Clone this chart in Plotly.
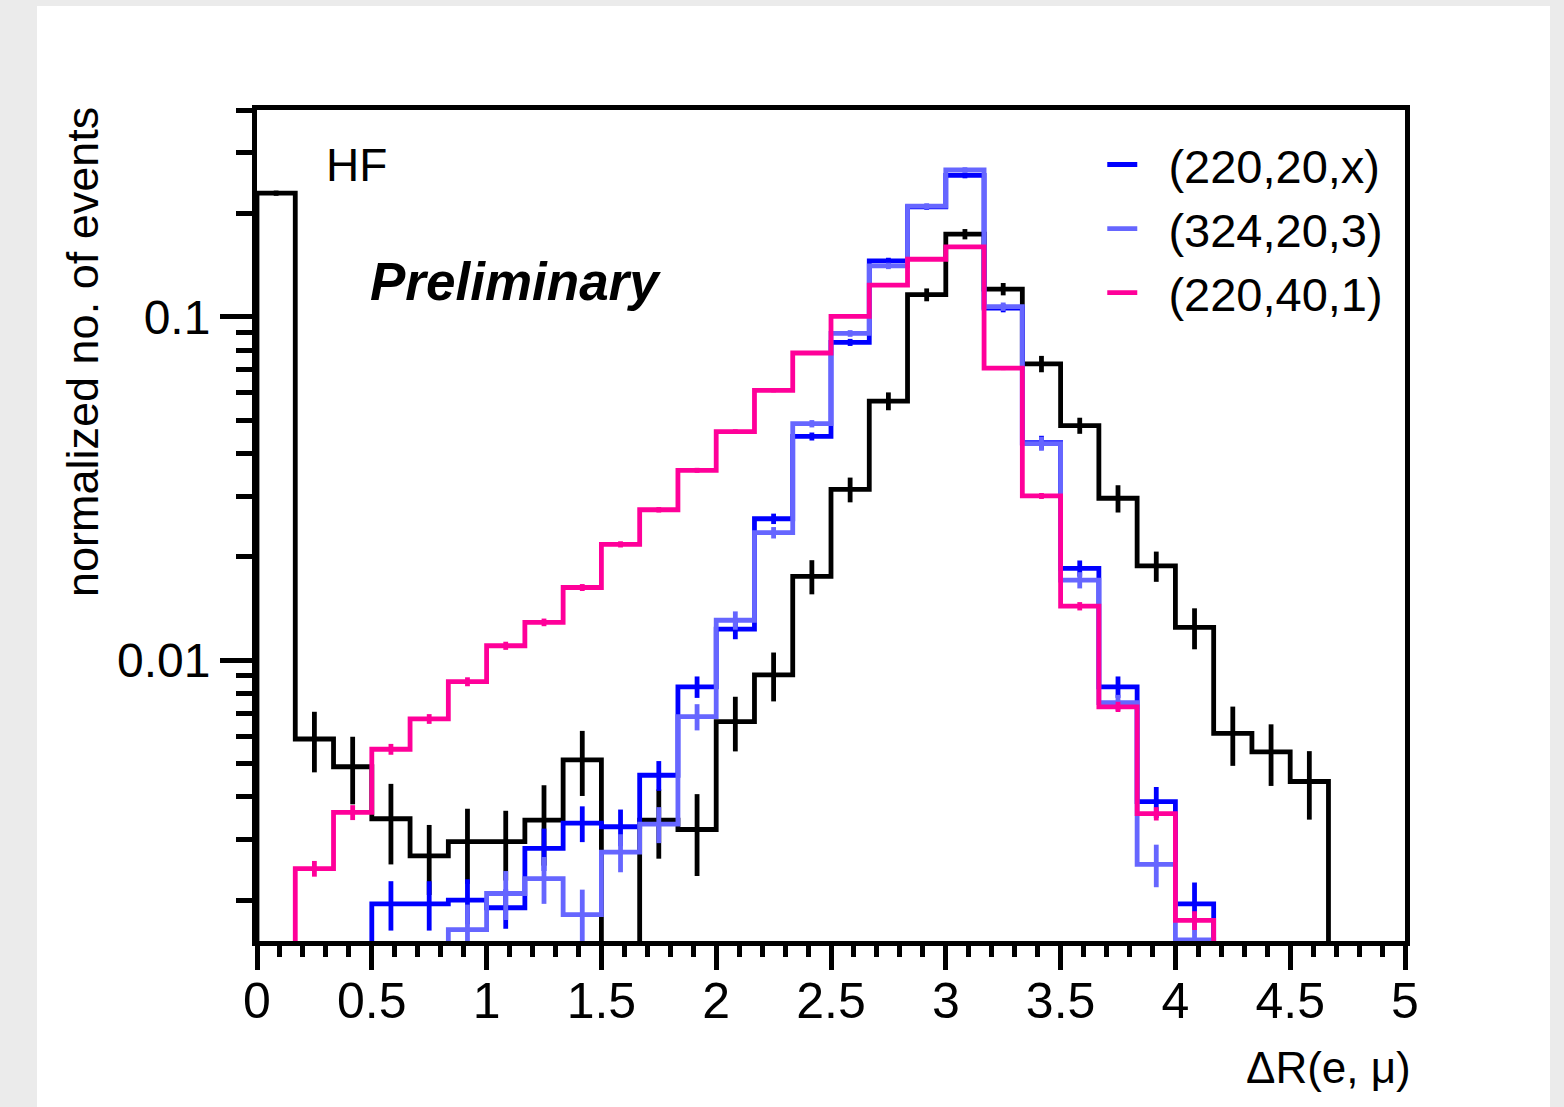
import numpy as np
import plotly.graph_objects as go

# ---- data: 30 bins of dR(e,mu) between 0 and 5 ----
x_lo, x_hi, n_bins = 0.0, 5.0, 30

hf_vals = [0.229, 0.00589, 0.00489, 0.00345, 0.00269, 0.00296, 0.00296, 0.00342, 0.00512, 0,
           0.00342, 0.00321, 0.00662, 0.00905, 0.01754, 0.0314, 0.0568, 0.1159, 0.174, 0.1204,
           0.0729, 0.0482, 0.0296, 0.0188, 0.01245, 0.00612, 0.0054, 0.00443, 0, 0]
hf_errs = [0.004, 0.00118, 0.00109, 0.00091, 0.00062, 0.00073, 0.00068, 0.0009, 0.0011, 0,
           0.00078, 0.00086, 0.0012, 0.00147, 0.002, 0.0026, 0.0034, 0.005, 0.006, 0.005,
           0.004, 0.0026, 0.0027, 0.0019, 0.0017, 0.0012, 0.0011, 0.001, 0, 0]

s220_20_vals = [0, 0, 0, 0.00195, 0.00195, 0.0020, 0.0019, 0.00283, 0.00335, 0.00327,
                0.00462, 0.00836, 0.0123, 0.0258, 0.0448, 0.0842, 0.1455, 0.209, 0.258, 0.106,
                0.043, 0.0185, 0.00836, 0.00387, 0.00195, 0, 0, 0, 0, 0]
s220_20_errs = [0, 0, 0, 0.00032, 0.00032, 0.0003, 0.00025, 0.0004, 0.0004, 0.0004,
                0.00046, 0.0006, 0.0008, 0.0009, 0.0012, 0.002, 0.003, 0.004, 0.005, 0.003,
                0.002, 0.001, 0.0006, 0.0004, 0.0003, 0, 0, 0, 0, 0]

s324_20_vals = [0, 0, 0, 0, 0, 0.00164, 0.00209, 0.00231, 0.001815, 0.00276,
                0.00333, 0.00684, 0.01306, 0.0235, 0.0488, 0.0894, 0.1406, 0.21, 0.2675, 0.107,
                0.0427, 0.0171, 0.00752, 0.00254, 0.00153, 0, 0, 0, 0, 0]
s324_20_errs = [0, 0, 0, 0, 0, 0.0003, 0.00034, 0.00036, 0.00033, 0.00035,
                0.0004, 0.0006, 0.0008, 0.0009, 0.0012, 0.002, 0.003, 0.004, 0.005, 0.003,
                0.002, 0.00093, 0.0004, 0.00036, 0.0003, 0, 0, 0, 0, 0]

s220_40_vals = [0, 0.00247, 0.0036, 0.0055, 0.00674, 0.00865, 0.01101, 0.01288, 0.01627, 0.02173,
                0.0274, 0.0357, 0.0463, 0.061, 0.0784, 0.1002, 0.1236, 0.147, 0.1598, 0.0708,
                0.03006, 0.01435, 0.00731, 0.00357, 0.001746, 0, 0, 0, 0, 0]
s220_40_errs = [0, 0.00013, 0.00018, 0.0002, 0.00022, 0.00026, 0.0003, 0.00033, 0.00038, 0.00045,
                0.0005, 0.0006, 0.0007, 0.0008, 0.0009, 0.001, 0.0011, 0.0012, 0.0013, 0.0009,
                0.0006, 0.0004, 0.00025, 0.00016, 0.00011, 0, 0, 0, 0, 0]

legend_names = ["(220,20,x)", "(324,20,3)", "(220,40,1)"]
y_min, y_max = 0.00152, 0.4

# ---- style ----
FONT = "Liberation Sans, Arial, Helvetica, sans-serif"
C_HF, C_B, C_LB, C_P = "#000000", "#0000ff", "#6666ff", "#ff0099"
LW = 4.8
AXW = 5
FLOOR = 1e-5  # zero bins are drawn below the visible range (as ROOT does on log axes)
PAD = "\u00a0\u00a0"

edges = np.linspace(x_lo, x_hi, n_bins + 1)
centers = 0.5 * (edges[:-1] + edges[1:])

fig = go.Figure()


def add_hist(vals, errs, color, name=None):
    v = np.array(vals, dtype=float)
    e = np.array(errs, dtype=float)
    vplot = np.where(v > 0, v, FLOOR)
    xs = np.concatenate([[edges[0]], edges[:-1], [edges[-1]]])
    ys = np.concatenate([[FLOOR], vplot, [FLOOR]])
    fig.add_trace(go.Scatter(x=xs, y=ys, mode="lines", line=dict(color=color, width=LW, shape="hv"),
                             name=(PAD + name) if name else "", showlegend=name is not None,
                             hoverinfo="skip"))
    m = v > 0
    fig.add_trace(go.Scatter(x=centers[m], y=v[m], mode="markers",
                             marker=dict(size=0.1, color=color),
                             error_y=dict(type="data", array=e[m], visible=True, color=color,
                                          thickness=LW, width=0),
                             showlegend=False, hoverinfo="skip"))


add_hist(hf_vals, hf_errs, C_HF)
add_hist(s220_20_vals, s220_20_errs, C_B, legend_names[0])
add_hist(s324_20_vals, s324_20_errs, C_LB, legend_names[1])
add_hist(s220_40_vals, s220_40_errs, C_P, legend_names[2])

fig.update_layout(
    width=1564, height=1107,
    margin=dict(l=257, r=159, t=110, b=166),
    paper_bgcolor="#ebebeb", plot_bgcolor="white",
    font=dict(family=FONT, color="black", size=46),
    showlegend=True,
    legend=dict(x=0.7363, y=0.979, xanchor="left", yanchor="top", bgcolor="rgba(0,0,0,0)",
                font=dict(size=47, family=FONT), itemwidth=30, tracegroupgap=0),
    shapes=[dict(type="rect", xref="paper", yref="paper", layer="below",
                 x0=(37 - 257) / 1148, x1=(1550 - 257) / 1148,
                 y0=(941 - 1120) / 831, y1=(941 - 6) / 831,
                 fillcolor="white", line=dict(width=0))],
)

fig.update_xaxes(range=[x_lo, x_hi], showgrid=False, zeroline=False,
                 showline=True, linewidth=AXW, linecolor="black", mirror=True,
                 ticks="outside", ticklen=24, tickwidth=AXW, tickcolor="black",
                 dtick=0.5, tick0=0, tickfont=dict(size=50, family=FONT),
                 ticklabelstandoff=-12,
                 minor=dict(ticks="outside", dtick=0.1, ticklen=11, tickwidth=AXW, tickcolor="black"))
fig.update_yaxes(type="log", range=[np.log10(y_min), np.log10(y_max)], showgrid=False, zeroline=False,
                 showline=True, linewidth=AXW, linecolor="black", mirror=True,
                 ticks="outside", ticklen=32, tickwidth=AXW, tickcolor="black",
                 dtick=1, tickfont=dict(size=48, family=FONT),
                 minor=dict(ticks="outside", dtick="D1", ticklen=16, tickwidth=AXW, tickcolor="black"))

fig.add_annotation(xref="paper", yref="paper", x=(82 - 257) / 1148, y=1.006, xanchor="center", yanchor="top",
                   text="normalized no. of events", textangle=-90, showarrow=False,
                   font=dict(size=45, family=FONT))
fig.add_annotation(xref="paper", yref="paper", x=(1413 - 257) / 1148, y=(941 - 1067) / 831,
                   xanchor="right", yanchor="middle", text="ΔR(e, μ)", showarrow=False,
                   font=dict(size=44, family=FONT))
fig.add_annotation(xref="paper", yref="paper", x=(324 - 257) / 1148, y=(941 - 165) / 831,
                   xanchor="left", yanchor="middle", text="HF", showarrow=False,
                   font=dict(size=46, family=FONT))
fig.add_annotation(xref="paper", yref="paper", x=(368 - 257) / 1148, y=(941 - 281) / 831,
                   xanchor="left", yanchor="middle", text="<b><i>Preliminary</i></b>", showarrow=False,
                   font=dict(size=53, family=FONT))

fig.write_html("out.html")
